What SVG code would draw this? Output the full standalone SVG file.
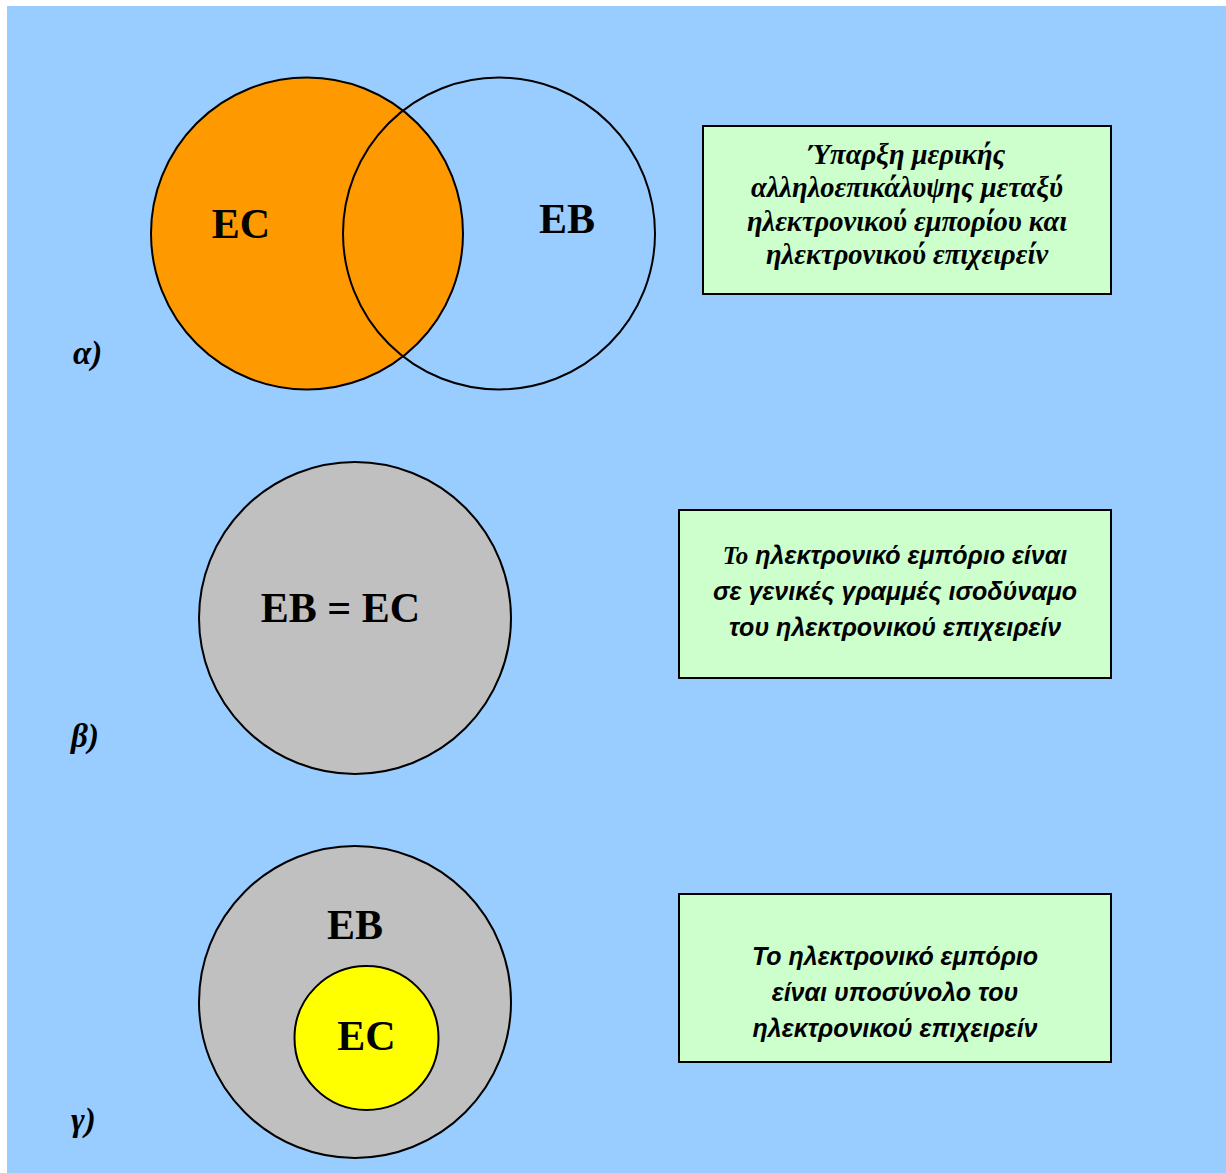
<svg xmlns="http://www.w3.org/2000/svg" width="1226" height="1173" viewBox="0 0 1226 1173">
<style>
.c{stroke:#000;stroke-width:2}
.big{font-family:"Liberation Serif","Times New Roman",serif;font-weight:bold;font-size:42px;fill:#000;text-anchor:middle}
.lab{font-family:"Liberation Serif","Times New Roman",serif;font-weight:bold;font-style:italic;font-size:33px;fill:#000}
.box{fill:#CCFFCC;stroke:#000;stroke-width:2}
.t1{font-family:"Liberation Serif","Times New Roman",serif;font-weight:bold;font-style:italic;font-size:28.5px;fill:#000;text-anchor:middle}
.t2{font-family:"Liberation Sans",Arial,sans-serif;font-weight:bold;font-style:italic;font-size:25px;fill:#000;text-anchor:middle}
</style>
<rect x="0" y="0" width="1226" height="1173" fill="#fff"/>
<rect x="7" y="6" width="1219" height="1167" fill="#99CCFF"/>
<g id="diagram-a">
<circle id="a-EC" class="c" cx="307" cy="233.5" r="156" fill="#FF9900"/>
<circle id="a-EB" class="c" cx="499" cy="233.5" r="156" fill="none"/>
<text class="big" x="241" y="238">EC</text>
<text class="big" x="567" y="233">EB</text>
<text class="lab" x="73" y="364">α)</text>
</g>
<g id="box-a">
<rect class="box" x="703" y="126" width="408" height="168"/>
<text class="t1" x="907" y="164">Ύπαρξη μερικής</text>
<text class="t1" x="907" y="197">αλληλοεπικάλυψης μεταξύ</text>
<text class="t1" x="907" y="231">ηλεκτρονικού εμπορίου και</text>
<text class="t1" x="907" y="264">ηλεκτρονικού επιχειρείν</text>
</g>
<g id="diagram-b">
<circle id="b-EBEC" class="c" cx="355" cy="618" r="156" fill="#C0C0C0"/>
<text class="big" x="340.5" y="622">EB = EC</text>
<text class="lab" x="71" y="747">β)</text>
</g>
<g id="box-b">
<rect class="box" x="679" y="510" width="432" height="168"/>
<text class="t2" x="895" y="564"><tspan font-family="Liberation Serif, Times New Roman, serif">Το</tspan> ηλεκτρονικό εμπόριο είναι</text>
<text class="t2" x="895" y="600">σε γενικές γραμμές ισοδύναμο</text>
<text class="t2" x="895" y="636">του ηλεκτρονικού επιχειρείν</text>
</g>
<g id="diagram-c">
<circle id="c-EB" class="c" cx="355" cy="1002" r="156" fill="#C0C0C0"/>
<text class="big" x="355" y="939">EB</text>
<circle id="c-EC" class="c" cx="366.5" cy="1038" r="72" fill="#FFFF00"/>
<text class="big" x="366.5" y="1050">EC</text>
<text class="lab" x="71" y="1131">γ)</text>
</g>
<g id="box-c">
<rect class="box" x="679" y="894" width="432" height="168"/>
<text class="t2" x="895" y="965">Το ηλεκτρονικό εμπόριο</text>
<text class="t2" x="895" y="1001">είναι υποσύνολο του</text>
<text class="t2" x="895" y="1037">ηλεκτρονικού επιχειρείν</text>
</g>
<g id="connectors"></g>
</svg>
